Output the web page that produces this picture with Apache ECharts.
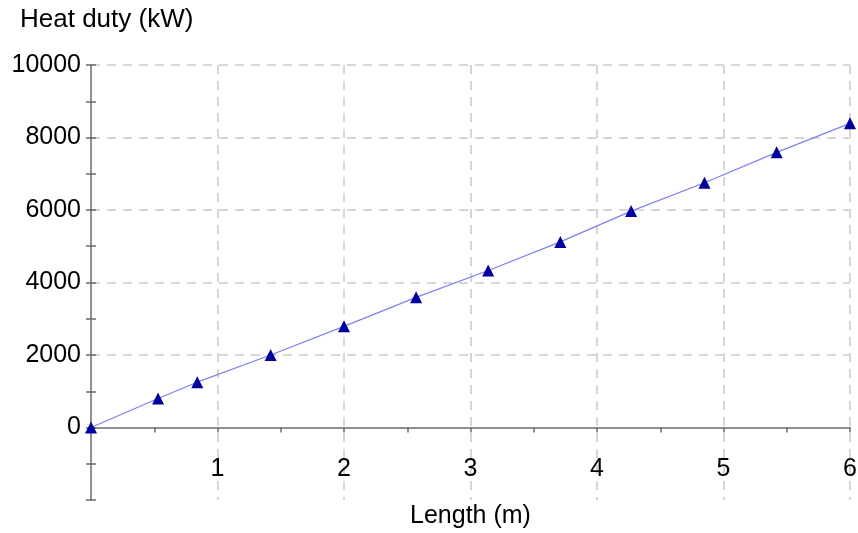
<!DOCTYPE html>
<html>
<head>
<meta charset="utf-8">
<script src="https://cdn.jsdelivr.net/npm/echarts@6/dist/echarts.min.js"></script>
<style>html,body{margin:0;padding:0;background:#fff}#c{width:858px;height:533px}</style>
</head>
<body>
<div id="c"></div>
<script>
const lengthM = [0, 0.53, 0.84, 1.42, 2.0, 2.57, 3.14, 3.71, 4.27, 4.85, 5.42, 6.0];
const heatDuty = [0, 800, 1250, 2000, 2790, 3590, 4330, 5120, 5970, 6750, 7590, 8390];
const xTickLabels = [1, 2, 3, 4, 5, 6];
const yTickLabels = [0, 2000, 4000, 6000, 8000, 10000];

const FONT = 'Liberation Sans, Arial, sans-serif';
const GRID = '#d6d6d6';
const AX = '#6b6b6b';
const T = 'rgba(0,0,0,0)';

const xSplitColors = [];
for (let v = 0; v <= 6.0001; v += 0.5) {
  xSplitColors.push(xTickLabels.some(t => Math.abs(t - v) < 1e-6) ? GRID : T);
}
const ySplitColors = [];
for (let v = -2000; v <= 10000; v += 1000) {
  ySplitColors.push(yTickLabels.includes(v) && v > 0 ? GRID : T);
}

const chart = echarts.init(document.getElementById('c'));
const xCommon = { type: 'value', min: 0, max: 6, interval: 0.5, gridIndex: 0 };
const yCommon = { type: 'value', min: -2000, max: 10000, interval: 1000, gridIndex: 0 };
chart.setOption({
  animation: false,
  backgroundColor: '#fff',
  grid: { left: 91, right: 8, top: 65, bottom: 33, containLabel: false, outerBoundsMode: 'none' },
  xAxis: [
    Object.assign({}, xCommon, {
      name: 'Length (m)',
      nameLocation: 'middle',
      nameGap: 4,
      nameTextStyle: { color: '#000', fontSize: 25, fontFamily: FONT },
      axisLine: { onZero: true, lineStyle: { color: AX, width: 1.5 } },
      axisTick: { show: true, length: 5, lineStyle: { color: AX, width: 1.5 } },
      axisLabel: {
        margin: -43, color: '#000', fontSize: 25, fontFamily: FONT,
        formatter: v => xTickLabels.some(t => Math.abs(t - v) < 1e-6) ? String(Math.round(v)) : ''
      },
      splitLine: { show: true, lineStyle: { color: xSplitColors, width: 2, type: [9, 7] } }
    }),
    Object.assign({}, xCommon, {
      axisLine: { show: false, onZero: true },
      axisTick: { show: true, inside: true, length: 5, lineStyle: { color: AX, width: 1.5 } },
      axisLabel: { show: false },
      splitLine: { show: false }
    })
  ],
  yAxis: [
    Object.assign({}, yCommon, {
      name: 'Heat duty (kW)',
      nameLocation: 'end',
      nameGap: 32,
      nameTextStyle: { color: '#000', fontSize: 26, fontFamily: FONT, align: 'left', padding: [0, 0, 0, -71] },
      axisLine: { onZero: false, lineStyle: { color: AX, width: 1.5 } },
      axisTick: { show: true, length: 5, lineStyle: { color: AX, width: 1.5 } },
      axisLabel: {
        margin: 10, color: '#000', fontSize: 25, fontFamily: FONT,
        formatter: v => yTickLabels.includes(v) ? String(v) : ''
      },
      splitLine: { show: true, lineStyle: { color: ySplitColors, width: 2, type: [9, 7] } }
    }),
    Object.assign({}, yCommon, {
      position: 'left',
      axisLine: { show: false, onZero: false },
      axisTick: { show: true, inside: true, length: 5, lineStyle: { color: AX, width: 1.5 } },
      axisLabel: { show: false },
      splitLine: { show: false }
    })
  ],
  series: [{
    type: 'line',
    xAxisIndex: 0, yAxisIndex: 0,
    data: lengthM.map((x, i) => [x, heatDuty[i]]),
    symbol: 'triangle',
    symbolSize: 12,
    showAllSymbol: true,
    itemStyle: { color: '#00009c' },
    lineStyle: { color: '#7f7fee', width: 1.2 },
    z: 5
  }]
});
</script>
</body>
</html>
